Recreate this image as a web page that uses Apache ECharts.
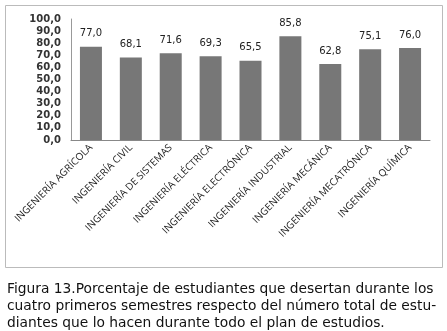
<!DOCTYPE html>
<html>
<head>
<meta charset="utf-8">
<script src="https://cdn.jsdelivr.net/npm/echarts@6/dist/echarts.min.js"></script>
<style>
  html, body { margin: 0; padding: 0; background: #fff; }
  #chart { width: 447px; height: 331px; }
</style>
</head>
<body>
<div id="chart"></div>
<script>
// Datos del gráfico
const carreras = [
    'INGENIERÍA AGRÍCOLA', 'INGENIERÍA CIVIL', 'INGENIERÍA DE SISTEMAS',
    'INGENIERÍA ELÉCTRICA', 'INGENIERÍA ELECTRÓNICA', 'INGENIERÍA INDUSTRIAL',
    'INGENIERÍA MECÁNICA', 'INGENIERÍA MECATRÓNICA', 'INGENIERÍA QUÍMICA'
];
const porcentajes = [77.0, 68.1, 71.6, 69.3, 65.5, 85.8, 62.8, 75.1, 76.0];
const leyenda = [
    'Figura 13.Porcentaje de estudiantes que desertan durante los',
    'cuatro primeros semestres respecto del número total de estu-',
    'diantes que lo hacen durante todo el plan de estudios.'
];

const fmt = v => v.toFixed(1).replace('.', ',');

const chart = echarts.init(document.getElementById('chart'));

chart.setOption({
    animation: false,
    grid: { left: 71, right: 17, top: 19, bottom: 191 },
    xAxis: {
        type: 'category',
        data: carreras,
        axisLine: { lineStyle: { color: '#888' } },
        axisTick: { show: false },
        axisLabel: {
            rotate: 45,
            interval: 0,
            fontSize: 10,
            fontFamily: 'Open Sans',
            color: '#222',
            margin: 6
        }
    },
    yAxis: {
        type: 'value',
        min: 0,
        max: 100,
        interval: 10,
        axisLine: { show: true, lineStyle: { color: '#999' } },
        axisTick: { show: false },
        splitLine: { show: false },
        axisLabel: {
            formatter: v => fmt(v),
            fontSize: 10,
            fontWeight: 'bold',
            fontFamily: 'DejaVu Sans',
            color: '#333',
            margin: 10
        }
    },
    series: [{
        type: 'bar',
        data: porcentajes,
        barWidth: 22,
        itemStyle: { color: '#777777' },
        label: {
            show: true,
            position: 'top',
            distance: 8,
            formatter: p => fmt(p.value),
            fontSize: 10,
            fontFamily: 'DejaVu Sans',
            color: '#222'
        }
    }],
    graphic: [
        {
            type: 'rect',
            shape: { x: 5.5, y: 5.5, width: 437, height: 262 },
            style: { fill: 'none', stroke: '#bbb', lineWidth: 1 },
            silent: true
        },
        {
            type: 'text',
            left: 7,
            top: 281,
            style: {
                text: leyenda.join('\n'),
                font: '13.8px "DejaVu Sans"',
                lineHeight: 17,
                fill: '#111'
            }
        }
    ]
});
</script>
</body>
</html>
